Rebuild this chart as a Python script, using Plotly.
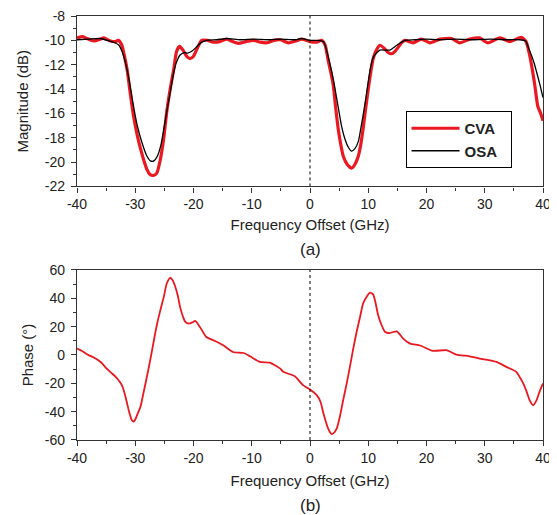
import plotly.graph_objects as go

# ---------------- data ----------------
mag_x_cva = [-40, -39, -38.3, -37.1, -36, -35.4, -34.3, -33.4, -32.9, -32.3, -31.9, -31.4, -30.9, -30.3,
             -29.7, -29.1, -28.5, -28.0, -27.5, -26.9, -26.3, -25.7, -25.1, -24.6, -24.0, -23.4, -22.9,
             -22.4, -21.8, -21.2, -20.6, -20.0, -19.3, -18.6, -17.6, -16.6, -15.5, -14.3, -13.3, -12.3,
             -11, -9.7, -8.5, -7.4, -6.2, -5.1, -3.7, -2.5, -1.4, 0, 1.15, 2.0, 2.6, 3.1, 3.6, 4.0, 4.4,
             4.85, 5.3, 5.7, 6.4, 7.15, 7.7, 8.3, 8.7, 9.1, 9.5, 10.0, 10.4, 10.85, 11.4, 12.0, 12.85,
             13.4, 14.0, 14.6, 15.1, 15.7, 16.3, 17.7, 19.1, 20.6, 22.3, 24.3, 25.7, 27.4, 29.1, 30.5,
             32.6, 34.3, 36.3, 37.1, 37.7, 38.2, 38.6, 39.1, 39.6, 40]
mag_cva = [-9.8, -9.7, -9.85, -10.05, -9.9, -9.8, -10.05, -10.1, -10.0, -10.4, -11.2, -12.4, -14.2, -16.2,
           -17.7, -18.9, -19.9, -20.6, -21.0, -21.1, -20.9, -19.8, -18.0, -15.9, -14.0, -12.4, -10.9,
           -10.5, -10.8, -11.3, -11.5, -11.3, -10.6, -10.0, -10.0, -10.15, -10.1, -9.9, -10.1, -10.25,
           -10.1, -10.0, -10.15, -10.2, -10.0, -9.95, -10.2, -10.05, -9.9, -10.1, -10.15, -10.0, -10.4,
           -11.6, -12.7, -13.7, -15.5, -17.3, -18.6, -19.5, -20.2, -20.5, -20.2, -19.5, -18.6, -17.3,
           -15.8, -14.0, -12.7, -11.5, -10.8, -10.4, -10.7, -11.0, -11.1, -10.9, -10.6, -10.2, -10.0,
           -10.2, -9.9, -10.2, -9.9, -9.85, -10.2, -9.9, -9.8, -10.2, -9.8, -10.1, -9.75, -10.1, -11.2,
           -12.5, -13.7, -15.4, -16.0, -16.6]

mag_x_osa = [-40, -38, -36, -34.5, -33.5, -32.8, -32.2, -31.6, -31.0, -30.3, -29.7, -29.1, -28.5, -28.0,
             -27.4, -26.8, -26.2, -25.6, -25.1, -24.5, -24.0, -23.5, -23.0, -22.3, -21.6, -21.0, -20.3,
             -19.6, -18.9, -17.8, -16, -14.3, -12, -9.7, -7, -5, -2.5, -1.4, 0, 1.2, 2.3, 3.1, 4.0, 4.85,
             5.4, 6.0, 6.6, 7.15, 7.7, 8.3, 8.7, 9.1, 9.6, 10.0, 10.4, 10.85, 11.5, 12.0, 13.0, 13.7,
             14.9, 16.3, 18, 20, 22, 25, 28, 31, 34, 36, 37.0, 37.5, 38.0, 38.5, 38.9, 39.5, 40]
mag_osa = [-9.95, -9.9, -9.85, -10.05, -10.2, -10.4, -11.0, -12.0, -13.4, -15.4, -16.9, -18.0, -18.9,
           -19.5, -19.9, -19.9, -19.5, -18.6, -17.3, -15.6, -14.3, -12.9, -11.9, -11.2, -11.0, -11.05,
           -10.9, -10.6, -10.25, -10.0, -9.95, -9.85, -9.95, -9.9, -9.95, -9.9, -9.95, -9.85, -10.0,
           -10.0, -10.1, -11.3, -13.2, -15.5, -17.0, -18.1, -18.8, -19.1, -18.9, -18.3, -17.3, -16.2,
           -14.7, -13.4, -12.2, -11.4, -11.0, -10.8, -10.8, -10.8, -10.4, -10.0, -9.95, -9.9, -9.95,
           -9.9, -9.95, -9.9, -9.95, -9.95, -10.05, -10.6, -11.2, -11.9, -12.6, -13.7, -14.7]

ph_x = [-40, -39, -38.3, -37.5, -36.6, -35.8, -34.9, -34, -33.1, -32.3, -31.9, -31.4, -31.0, -30.6, -30.3,
        -30.0, -29.6, -29.1, -28.6, -28.0, -27.4, -26.8, -26.3, -25.7, -25.1, -24.6, -24.0, -23.6, -23.2,
        -22.7, -22.3, -21.8, -21.4, -20.8, -20.2, -19.7, -18.9, -17.8, -16.3, -14.9, -13.2, -11.4, -10.3,
        -8.6, -6.9, -5.1, -4.6, -2.6, -1.2, 0, 1.15, 1.8, 2.3, 3.1, 3.7, 4.1, 4.6, 5.1, 5.7, 6.3, 6.85,
        7.4, 8.0, 8.6, 9.1, 9.7, 10.3, 10.85, 11.3, 11.7, 12.3, 12.9, 13.7, 14.9, 16.0, 17.2, 18.9, 21.1,
        23.4, 25.1, 27.4, 29.1, 32.0, 33.7, 35.4, 36.6, 37.2, 37.7, 38.3, 38.9, 39.4, 40]
ph_cva = [4.5, 2.5, 0.5, -1.0, -3.0, -5.5, -9.6, -13, -16.6, -21.3, -26, -34.2, -41, -45.9, -47, -45.5,
          -41.5, -36.6, -27, -15.4, -3, 10.4, 21, 31.5, 41, 50.3, 54.5, 53, 49, 42, 33.8, 27, 23.3, 22.1,
          23, 24.0, 19.8, 12.7, 9.9, 6.9, 2.1, 1.4, -0.9, -4.9, -5.4, -9.6, -11.9, -15.0, -21.3, -24.3,
          -28.3, -33, -41.2, -51.8, -55.8, -55, -51.8, -44, -31.8, -20, -8.4, 4, 16.2, 27, 36.2, 41, 44.0,
          42.6, 36, 28.0, 21, 16.2, 15.5, 16.7, 11.6, 8.0, 6.7, 2.9, 3.4, 0.3, -0.9, -2.5, -4.9, -8.4,
          -11.9, -20.1, -26, -31.8, -35.4, -31.8, -26.0, -20.1]

x_ticks = [-40, -30, -20, -10, 0, 10, 20, 30, 40]
x_labels = ["-40", "-30", "-20", "-10", "0", "10", "20", "30", "40"]
mag_ticks = [-22, -20, -18, -16, -14, -12, -10, -8]
mag_labels = ["-22", "-20", "-18", "-16", "-14", "-12", "-10", "-8"]
ph_ticks = [-60, -40, -20, 0, 20, 40, 60]
ph_labels = ["-60", "-40", "-20", "0", "20", "40", "60"]

RED = "rgb(234,24,32)"
FONT = "Arial, Liberation Sans, sans-serif"
TXT = "#222222"

fig = go.Figure()
fig.add_trace(go.Scatter(x=mag_x_cva, y=mag_cva, name="CVA\u00a0\u00a0", mode="lines",
                         line=dict(color=RED, width=3.2, shape="spline", smoothing=0.6),
                         xaxis="x", yaxis="y"))
fig.add_trace(go.Scatter(x=mag_x_osa, y=mag_osa, name="OSA\u00a0\u00a0", mode="lines",
                         line=dict(color="black", width=1.3, shape="spline", smoothing=0.6),
                         xaxis="x", yaxis="y"))
fig.add_trace(go.Scatter(x=ph_x, y=ph_cva, name="Phase", mode="lines", showlegend=False,
                         line=dict(color=RED, width=1.8, shape="spline", smoothing=0.6),
                         xaxis="x2", yaxis="y2"))

axcommon = dict(showgrid=False, zeroline=False, showline=True, linecolor="#333", linewidth=1.2,
                mirror=True, ticks="outside", ticklen=5, tickcolor="#333", tickwidth=1,
                automargin=False, ticklabeloverflow="allow",
                tickfont=dict(family=FONT, size=14, color=TXT))
tfont = dict(size=15, family=FONT, color=TXT)
minor_common = dict(ticks="outside", ticklen=3, tickcolor="#333")

# the page body adds an 8 px offset, so the figure is sized to 549 x 507
fig.update_layout(
    width=549, height=507,
    margin=dict(l=69, r=14, t=8, b=75),
    paper_bgcolor="white", plot_bgcolor="white",
    font=dict(family=FONT, color=TXT),
    xaxis=dict(**axcommon, domain=[0, 1], anchor="y", range=[-40, 40],
               tickvals=x_ticks, ticktext=x_labels,
               minor=dict(dtick=5, **minor_common),
               title=dict(text="Frequency Offset (GHz)", font=tfont, standoff=8)),
    yaxis=dict(**axcommon, domain=[0.598, 1], anchor="x", range=[-22, -8],
               tickvals=mag_ticks, ticktext=mag_labels, ticklabelstandoff=3,
               minor=dict(dtick=1, **minor_common),
               title=dict(text="Magnitude (dB)", font=tfont, standoff=12)),
    xaxis2=dict(**axcommon, domain=[0, 1], anchor="y2", range=[-40, 40],
                tickvals=x_ticks, ticktext=x_labels,
                minor=dict(dtick=5, **minor_common),
                title=dict(text="Frequency Offset (GHz)", font=tfont, standoff=10)),
    yaxis2=dict(**axcommon, domain=[0, 0.401], anchor="x2", range=[-60, 60],
                tickvals=ph_ticks, ticktext=ph_labels, ticklabelstandoff=3,
                minor=dict(dtick=10, **minor_common),
                title=dict(text="Phase (°)", font=tfont, standoff=7)),
    legend=dict(x=0.705, y=0.776, xanchor="left", yanchor="top", bordercolor="black",
                borderwidth=1, bgcolor="white",
                font=dict(family=FONT, size=15, color=TXT, weight="bold"),
                itemwidth=48, tracegroupgap=0),
    showlegend=True,
)

# dotted line at zero offset in both panels
fig.add_shape(type="line", xref="x", yref="y", x0=0, x1=0, y0=-22, y1=-8,
              line=dict(color="black", width=1, dash="dot"))
fig.add_shape(type="line", xref="x2", yref="y2", x0=0, x1=0, y0=-60, y1=60,
              line=dict(color="black", width=1, dash="dot"))

fig.add_annotation(text="(a)", x=0.5, y=0.450, xref="paper", yref="paper", showarrow=False,
                   font=dict(family=FONT, size=17, color=TXT), yanchor="middle")
fig.add_annotation(text="(b)", x=0.5, y=-0.154, xref="paper", yref="paper", showarrow=False,
                   font=dict(family=FONT, size=17, color=TXT), yanchor="middle")

fig.write_html("out.html")
